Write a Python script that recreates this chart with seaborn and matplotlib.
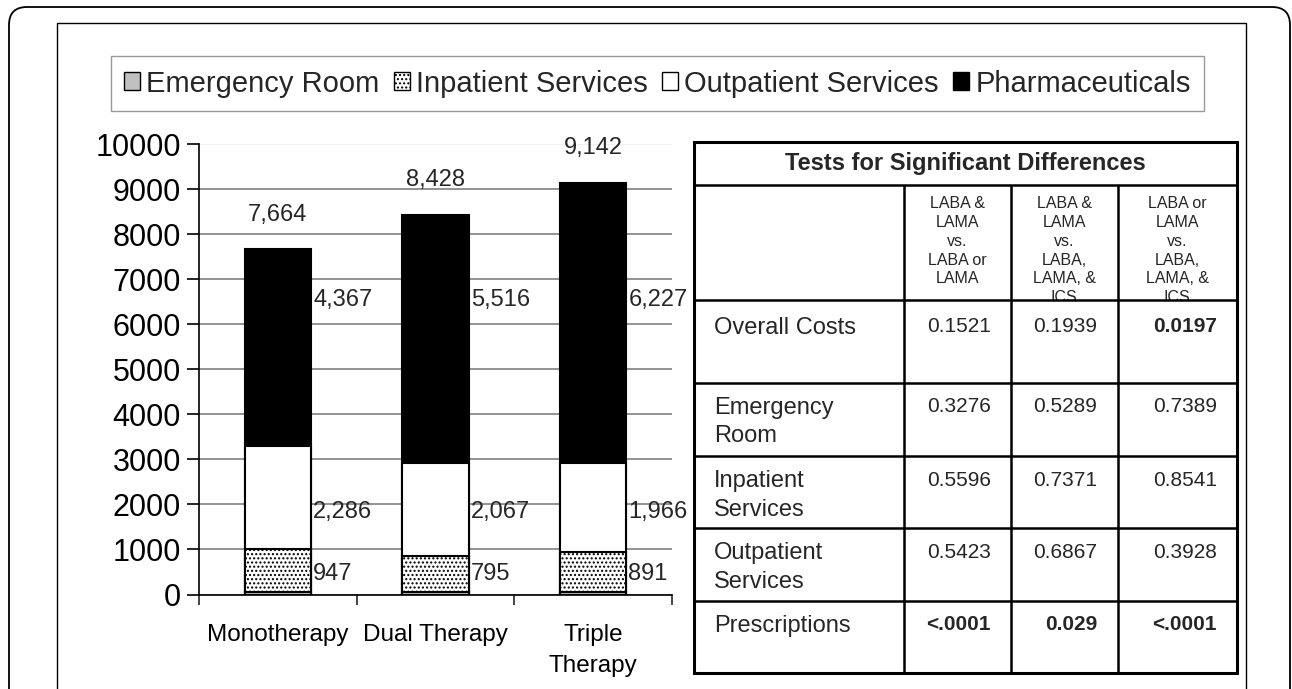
import matplotlib
matplotlib.use("Agg")
import numpy as np
import pandas as pd
import matplotlib.pyplot as plt
import seaborn as sns
from matplotlib.patches import Patch, FancyBboxPatch, Rectangle
from matplotlib.transforms import IdentityTransform

# %% data
therapies = ["Monotherapy", "Dual Therapy", "Triple\nTherapy"]
components = ["Emergency Room", "Inpatient Services", "Outpatient Services", "Pharmaceuticals"]
emergency = [64, 50, 58]
inpatient = [947, 795, 891]
outpatient = [2286, 2067, 1966]
pharma = [4367, 5516, 6227]

table_title = "Tests for Significant Differences"
comparisons = ["LABA &\nLAMA\nvs.\nLABA or\nLAMA",
               "LABA &\nLAMA\nvs.\nLABA,\nLAMA, &\nICS",
               "LABA or\nLAMA\nvs.\nLABA,\nLAMA, &\nICS"]
outcomes = ["Overall Costs", "Emergency\nRoom", "Inpatient\nServices",
            "Outpatient\nServices", "Prescriptions"]
p_overall = ["0.1521", "0.1939", "0.0197"]
p_er = ["0.3276", "0.5289", "0.7389"]
p_inpatient = ["0.5596", "0.7371", "0.8541"]
p_outpatient = ["0.5423", "0.6867", "0.3928"]
p_rx = ["<.0001", "0.029", "<.0001"]

# %% stacked frame
df = pd.DataFrame({"therapy": therapies, "er": emergency, "inp": inpatient,
                   "out": outpatient, "rx": pharma})
df["er_top"] = df.er
df["inp_top"] = df.er_top + df.inp
df["out_top"] = df.inp_top + df.out
df["total"] = df.out_top + df.rx

sns.set_theme(style="white")
plt.rcParams["font.family"] = ["Liberation Sans", "DejaVu Sans"]
plt.rcParams["hatch.linewidth"] = 1.0

W, H = 1292, 689
fig = plt.figure(figsize=(W / 100, H / 100), dpi=100)
fig.patch.set_facecolor("white")

ax = fig.add_axes([199 / W, 1 - 594.5 / H, (672 - 199) / W, (594.5 - 144) / H])

layers = [("total", "black", None), ("out_top", "white", None),
          ("inp_top", "white", "...."), ("er_top", "#c0c0c0", None)]
for col, fc, hatch in layers:
    sns.barplot(data=df, x="therapy", y=col, color=fc, width=0.42, saturation=1,
                edgecolor="black", linewidth=1.5, hatch=hatch, errorbar=None, ax=ax)

ax.set_xlim(-0.5, 2.5)
ax.set_ylim(0, 10000)
ax.set_yticks(np.arange(0, 10001, 1000))
ax.set_xlabel("")
ax.set_ylabel("")
ax.set_axisbelow(True)
ax.yaxis.grid(True, color="#808080", lw=1.2)
ax.yaxis.get_gridlines()[-1].set_color("#eeeeee")
for s in ["top", "right"]:
    ax.spines[s].set_visible(False)
for s in ["left", "bottom"]:
    ax.spines[s].set_color("black")
    ax.spines[s].set_linewidth(1.2)
ax.tick_params(axis="y", left=True, length=9, width=1.2, labelsize=22, pad=4, colors="black")
ax.set_xticks([-0.5, 0.5, 1.5, 2.5], minor=True)
ax.tick_params(axis="x", which="minor", bottom=True, length=7, width=1.2)
ax.tick_params(axis="x", which="major", length=0, pad=21, labelsize=17.5, colors="black")
for t in ax.get_xticklabels():
    t.set_linespacing(1.55)

# totals above bars
for i, tot in enumerate(df.total):
    ax.annotate(f"{tot:,}", (i, tot), xytext=(0, 25), textcoords="offset points",
                ha="center", va="center", fontsize=17)

# segment labels to the right of bars
seg_label_y = {"inp": 455, "out": 1830, "rx": 6540}
for key, yv in seg_label_y.items():
    for i, v in enumerate(df[key]):
        ax.annotate(f"{v:,}", (i + 0.21, yv), xytext=(1.5, 0), textcoords="offset points",
                    ha="left", va="center", fontsize=17)

# legend
fills = ["#c0c0c0", "white", "white", "black"]
hatches = [None, "....", None, None]
handles = [Patch(facecolor=f, edgecolor="black", hatch=h, lw=1) for f, h in zip(fills, hatches)]
leg = fig.legend(handles, components, loc="center", bbox_to_anchor=(657.5 / W, 1 - 83.5 / H),
                 ncol=4, frameon=True, fancybox=False, edgecolor="#808080", fontsize=21,
                 handlelength=0.55, handleheight=0.55, handletextpad=0.2, columnspacing=0.5,
                 borderpad=0.45, borderaxespad=0)
leg.get_frame().set_linewidth(1.0)

# frames
fig.add_artist(FancyBboxPatch((9, -40), 1281, 689 - 7 + 40, boxstyle="round,pad=0,rounding_size=18",
                              transform=IdentityTransform(), fill=False, ec="black", lw=1.3))
fig.add_artist(Rectangle((57, -40), 1246 - 57, 689 - 23 + 40, transform=IdentityTransform(),
                         fill=False, ec="black", lw=1.0))

# %% table
tx0, tx1, ty0, ty1 = 694, 1237, 142, 673
col_edges = [tx0, 904, 1011, 1117.5, tx1]
row_tops = [300, 383, 456, 528, 601]
title_bottom = 185

tax = fig.add_axes([tx0 / W, 1 - ty1 / H, (tx1 - tx0) / W, (ty1 - ty0) / H])
tax.set_xlim(tx0, tx1)
tax.set_ylim(ty1, ty0)
tax.axis("off")

tax.add_patch(Rectangle((tx0, ty0), tx1 - tx0, ty1 - ty0, fill=False, ec="black", lw=2.2,
                        clip_on=False, zorder=4))
tax.hlines([title_bottom] + row_tops, tx0, tx1, color="black", lw=1.8, zorder=4)
tax.vlines(col_edges[1:-1], title_bottom, ty1, color="black", lw=1.8, zorder=4)

tax.text((tx0 + tx1) / 2, (ty0 + title_bottom) / 2, table_title, ha="center", va="center",
         fontsize=17, fontweight="bold")

for j, comp in enumerate(comparisons):
    x0, x1 = col_edges[j + 1], col_edges[j + 2]
    for k, line in enumerate(comp.split("\n")):
        tax.text((x0 + x1) / 2, title_bottom + 19 + k * 18.7, line, ha="center", va="center",
                 fontsize=11.5, zorder=1)
# the header cell cuts off its last line
tax.add_patch(Rectangle((col_edges[1], row_tops[0]), tx1 - col_edges[1], 14, fc="white",
                        ec="none", zorder=2))

pvals = [p_overall, p_er, p_inpatient, p_outpatient, p_rx]
for r, (name, vals) in enumerate(zip(outcomes, pvals)):
    top = row_tops[r]
    pad = 28 if r == 0 else 25
    for k, line in enumerate(name.split("\n")):
        tax.text(714, top + pad + k * 28.5, line, ha="left", va="center", fontsize=17, zorder=3)
    for j, v in enumerate(vals):
        sig = v.startswith("<") or float(v) < 0.05
        tax.text(col_edges[j + 2] - 20, top + pad - 1, v, ha="right", va="center", fontsize=15,
                 fontweight="bold" if sig else "normal", zorder=3)

fig.savefig("out.png", dpi=100)
